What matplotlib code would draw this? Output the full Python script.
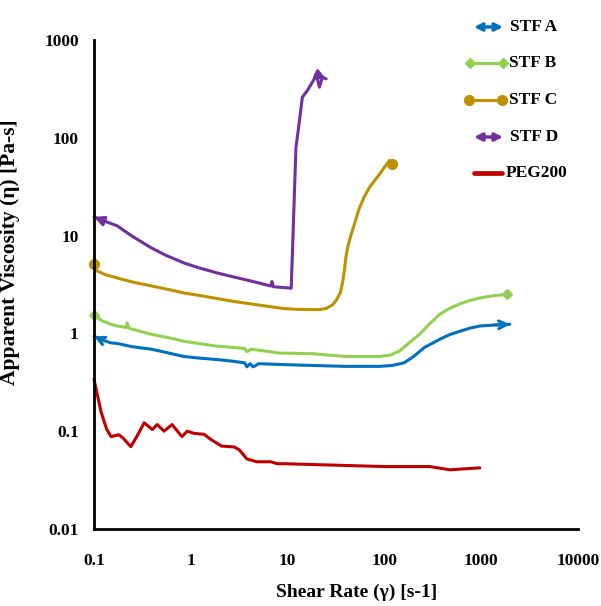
import numpy as np
import matplotlib
matplotlib.use('Agg')
import matplotlib.pyplot as plt
from matplotlib.lines import Line2D
from matplotlib.text import Annotation

# ---------------- data ----------------
stf_a_x = [0.1, 0.12, 0.15, 0.173, 0.25, 0.39, 0.55, 0.85, 1.2, 1.87, 2.7, 3.6, 3.8, 4.1, 4.4, 4.7, 5.0, 9.0, 18, 40,
           89, 120, 160, 200, 260, 373, 470, 600, 760, 968, 1400, 1977]
stf_a_y = [0.935, 0.86, 0.80, 0.79, 0.73, 0.69, 0.64, 0.58, 0.56, 0.54, 0.52, 0.50, 0.455, 0.49, 0.455, 0.47, 0.49,
           0.48, 0.47, 0.46, 0.46, 0.47, 0.50, 0.58, 0.72, 0.87, 0.97, 1.05, 1.13, 1.19, 1.22, 1.24]

stf_b_x = [0.1, 0.12, 0.15, 0.173, 0.215, 0.22, 0.23, 0.3, 0.39, 0.6, 0.85, 1.3, 1.87, 2.7, 3.6, 3.8, 4.2, 8.2, 18,
           40, 89, 115, 143, 180, 231, 300, 373, 470, 600, 760, 968, 1300, 1842]
stf_b_y = [1.55, 1.35, 1.24, 1.19, 1.15, 1.28, 1.13, 1.05, 0.98, 0.90, 0.83, 0.78, 0.74, 0.72, 0.70, 0.65, 0.69, 0.63,
           0.62, 0.58, 0.58, 0.60, 0.66, 0.80, 0.98, 1.28, 1.57, 1.80, 2.0, 2.17, 2.3, 2.42, 2.5]

stf_c_x = [0.1, 0.105, 0.13, 0.173, 0.25, 0.39, 0.6, 0.85, 1.3, 1.87, 2.8, 4.2, 6.5, 9.3, 13.2, 21.3, 25, 29, 32, 35,
           37, 38.7, 40, 42, 45, 50, 55, 62, 70, 80, 90, 100, 113, 121]
stf_c_y = [5.1, 4.4, 4.0, 3.69, 3.35, 3.06, 2.8, 2.59, 2.42, 2.27, 2.12, 2.0, 1.88, 1.79, 1.76, 1.75, 1.8, 1.95, 2.2,
           2.6, 3.3, 4.5, 6.0, 7.8, 10, 14, 19, 25, 31, 37, 43, 50, 58.6, 54]

stf_d_x = [0.1, 0.13, 0.173, 0.25, 0.39, 0.55, 0.85, 1.2, 1.87, 2.7, 4.2, 6.7, 6.9, 7.1, 10.9, 12.2, 13.2, 14.2,
           16.1, 19.9, 21.3, 22.9, 25]
stf_d_y = [15.5, 14.0, 12.6, 9.8, 7.5, 6.3, 5.25, 4.7, 4.15, 3.8, 3.43, 3.05, 3.4, 3.0, 2.9, 80, 144, 260, 307, 437,
           329, 416, 400]

peg_x = [0.1, 0.118, 0.135, 0.15, 0.18, 0.2, 0.24, 0.28, 0.33, 0.4, 0.45, 0.53, 0.64, 0.81, 0.92, 1.08, 1.37, 1.62,
         2.07, 2.8, 3.17, 3.8, 4.8, 6.7, 7.8, 9.2, 20, 100, 294, 475, 968]
peg_y = [0.34, 0.159, 0.105, 0.088, 0.092, 0.085, 0.0695, 0.09, 0.122, 0.104, 0.117, 0.10, 0.117, 0.088, 0.10,
         0.095, 0.093, 0.082, 0.0705, 0.069, 0.0645, 0.052, 0.0487, 0.0487, 0.0465, 0.0465, 0.0455, 0.0435, 0.0435,
         0.0403, 0.0422]

labels = ['STF A', 'STF B', 'STF C', 'STF D', 'PEG200']
colors = ['#0070C0', '#92D050', '#BF9000', '#7030A0', '#C00000']

x_ticks = [0.1, 1, 10, 100, 1000, 10000]
x_tick_labels = ['0.1', '1', '10', '100', '1000', '10000']
y_ticks = [0.01, 0.1, 1, 10, 100, 1000]
y_tick_labels = ['0.01', '0.1', '1', '10', '100', '1000']

# ---------------- figure ----------------
plt.rcParams['font.family'] = ['Liberation Serif', 'DejaVu Serif']
plt.rcParams['font.weight'] = 'bold'

W, H = 601, 606
fig = plt.figure(figsize=(W / 100, H / 100), dpi=100)
ax = fig.add_axes([94 / W, 1 - 529 / H, (578 - 94) / W, (529 - 40) / H])
ax.set_xscale('log')
ax.set_yscale('log')
ax.set_xlim(0.1, 10000)
ax.set_ylim(0.01, 1000)

lw = 2.2
series = [(stf_a_x, stf_a_y), (stf_b_x, stf_b_y), (stf_c_x, stf_c_y), (stf_d_x, stf_d_y), (peg_x, peg_y)]
for (xs, ys), c in zip(series, colors):
    ax.plot(xs, ys, color=c, lw=lw, solid_joinstyle='round', solid_capstyle='round', clip_on=False)

# end markers
ax.plot([stf_b_x[0], stf_b_x[-1]], [stf_b_y[0], stf_b_y[-1]], ls='none', marker='D', ms=5.5, color=colors[1], clip_on=False)
ax.plot([stf_c_x[0], stf_c_x[-1]], [stf_c_y[0], stf_c_y[-1]], ls='none', marker='o', ms=7, color=colors[2], clip_on=False)


def end_arrows(xs, ys, color, style):
    for i, j in [(1, 0), (-2, -1)]:
        ax.annotate('', xy=(xs[j], ys[j]), xytext=(xs[i], ys[i]),
                    arrowprops=dict(arrowstyle=style, color=color, lw=lw, mutation_scale=14,
                                    shrinkA=0, shrinkB=0), annotation_clip=False)


end_arrows(stf_a_x, stf_a_y, colors[0], '->')
end_arrows(stf_d_x, stf_d_y, colors[3], '-|>')

# axes styling
for s in ['top', 'right']:
    ax.spines[s].set_visible(False)
for s in ['left', 'bottom']:
    ax.spines[s].set_linewidth(2)
ax.tick_params(which='both', length=0)
ax.set_xticks(x_ticks)
ax.set_xticklabels(x_tick_labels, fontsize=12.5, fontweight='bold')
ax.set_yticks(y_ticks)
ax.set_yticklabels(y_tick_labels, fontsize=12.5, fontweight='bold')
ax.minorticks_off()
ax.tick_params(axis='x', pad=17)
ax.tick_params(axis='y', pad=11)

ax.set_xlabel('Shear Rate (γ) [s-1]', fontsize=14, fontweight='bold')
ax.xaxis.set_label_coords((357 - 94) / (578 - 94), -(584 - 529) / (529 - 40))
ax.set_ylabel('Apparent Viscosity (η) [Pa-s]', fontsize=15.5, fontweight='bold')
ax.yaxis.set_label_coords(-(94 - 20) / (578 - 94), (529 - 252) / (529 - 40))

# ---------------- legend (drawn by hand, right top) ----------------
leg_y = [27, 63, 100, 137, 173]
for k, (lab, c, py) in enumerate(zip(labels, colors, leg_y)):
    yy = (H - py) / H
    if k in (0, 3):
        style = '<->' if k == 0 else '<|-|>'
        fig.add_artist(Annotation('', xy=(503 / W, yy), xytext=(474 / W, yy), xycoords='figure fraction',
                                  arrowprops=dict(arrowstyle=style, color=c, lw=2.5,
                                                  mutation_scale=11 if k == 0 else 11,
                                                  shrinkA=0, shrinkB=0)))
        tx = 510
    elif k == 1:
        fig.add_artist(Line2D([470 / W, 503 / W], [yy, yy], color=c, lw=lw, marker='D', ms=5.5,
                              transform=fig.transFigure))
        tx = 509
    elif k == 2:
        fig.add_artist(Line2D([469 / W, 502 / W], [yy, yy], color=c, lw=lw, marker='o', ms=7,
                              transform=fig.transFigure))
        tx = 509
    else:
        fig.add_artist(Line2D([474 / W, 502 / W], [yy, yy], color=c, lw=3.4,
                              solid_capstyle='round', transform=fig.transFigure))
        tx = 506
    fig.text(tx / W, yy, lab, fontsize=12.5, fontweight='bold', va='center', ha='left')

fig.savefig('out.png', dpi=100)
